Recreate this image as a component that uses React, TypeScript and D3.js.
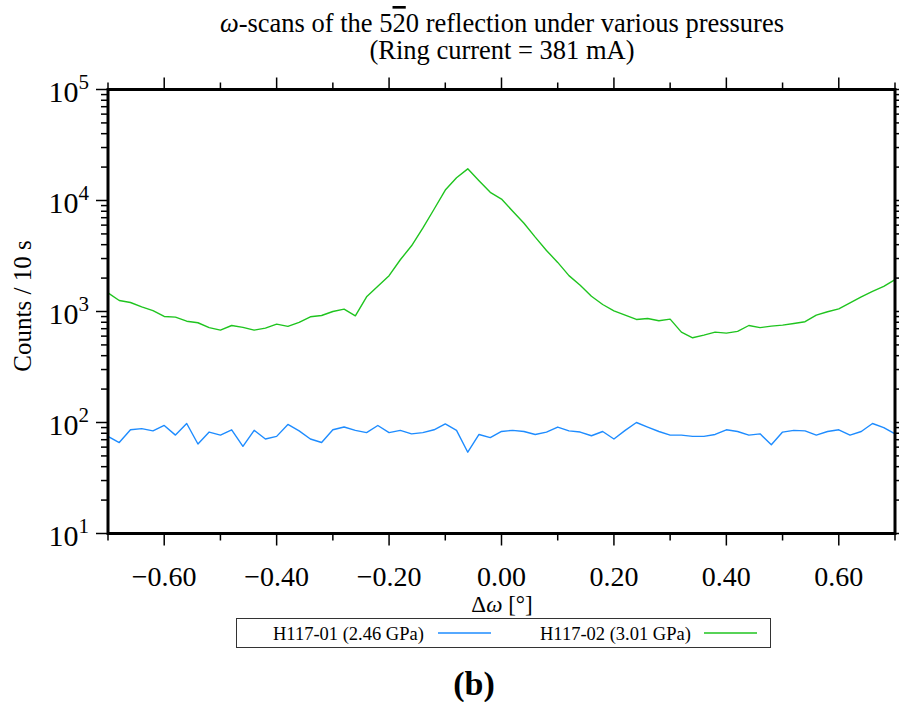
import React from "react";
import * as d3 from "d3";

const omega = [
  -0.7, -0.68, -0.66, -0.64, -0.62, -0.6, -0.58, -0.56, -0.54, -0.52,
  -0.5, -0.48, -0.46, -0.44, -0.42, -0.4, -0.38, -0.36, -0.34, -0.32,
  -0.3, -0.28, -0.26, -0.24, -0.22, -0.2, -0.18, -0.16, -0.14, -0.12,
  -0.1, -0.08, -0.06, -0.04, -0.02, 0.0, 0.02, 0.04, 0.06, 0.08,
  0.1, 0.12, 0.14, 0.16, 0.18, 0.2, 0.22, 0.24, 0.26, 0.28,
  0.3, 0.32, 0.34, 0.36, 0.38, 0.4, 0.42, 0.44, 0.46, 0.48,
  0.5, 0.52, 0.54, 0.56, 0.58, 0.6, 0.62, 0.64, 0.66, 0.68, 0.7,
];

const h11701 = [
  75, 66, 86, 88, 84, 94, 77, 98, 64, 82,
  77, 86, 61, 85, 71, 75, 96, 84, 71, 66,
  86, 91, 85, 81, 94, 81, 85, 79, 81, 86,
  97, 85, 54, 78, 73, 83, 85, 83, 78, 82,
  91, 84, 82, 76, 83, 71, 85, 100, 91, 83,
  77, 77, 75, 75, 78, 86, 83, 77, 79, 63,
  82, 85, 84, 77, 83, 86, 77, 83, 98, 90, 79,
];

const h11702 = [
  1470, 1256, 1205, 1102, 1020, 902, 889, 818, 792, 715,
  680, 748, 719, 680, 708, 769, 734, 798, 896, 920,
  1000, 1050, 914, 1355, 1687, 2103, 2927, 3907, 5637, 8340,
  12410, 16030, 19290, 15070, 11840, 10300, 8000, 6240, 4675, 3548,
  2768, 2105, 1722, 1371, 1156, 1014, 927, 848, 865, 826,
  854, 652, 580, 613, 652, 638, 662, 748, 715, 738,
  754, 779, 809, 927, 994, 1057, 1197, 1355, 1521, 1687, 1935,
];

const xMajorTicks = [-0.6, -0.4, -0.2, 0.0, 0.2, 0.4, 0.6];
const xMinorTicks = [-0.7, -0.5, -0.3, -0.1, 0.1, 0.3, 0.5, 0.7];
const xTickLabels = ["\u22120.60", "\u22120.40", "\u22120.20", "0.00", "0.20", "0.40", "0.60"];
const yDecades = [10, 100, 1000, 10000, 100000];
const yExponents = ["1", "2", "3", "4", "5"];

const seriesNames = ["H117-01 (2.46 GPa)", "H117-02 (3.01 GPa)"];
const seriesColors = ["#1e8cff", "#1fc41f"];

const W = 899;
const H = 702;
const left = 108;
const right = 895;
const top = 89.5;
const bottom = 533.5;
const FONT = '"Liberation Serif", "Times New Roman", serif';

export default function App() {
  const x = d3.scaleLinear().domain([-0.7, 0.7]).range([left, right]);
  const y = d3.scaleLog().domain([10, 100000]).range([bottom, top]);

  const line = (vals: number[]) =>
    d3
      .line<number>()
      .x((_, i) => x(omega[i]))
      .y((v) => y(v))(vals) as string;

  const yMinor = y.ticks().filter((t) => !yDecades.includes(t));

  const series = [h11701, h11702];

  return (
    <svg
      width={W}
      height={H}
      style={{ position: "absolute", left: 0, top: 0, background: "#fff", fontFamily: FONT }}
    >
      <rect x={0} y={0} width={W} height={H} fill="#fff" />
      {/* Title */}
      <text x={502} y={32} textAnchor="middle" fontSize={26.5} fill="#000">
        <tspan fontStyle="italic">ω</tspan>
        <tspan>-scans of the 5</tspan>
        <tspan style={{ textDecoration: "overline" }}>2</tspan>
        <tspan>0 reflection under various pressures</tspan>
      </text>
      <text x={502} y={59} textAnchor="middle" fontSize={26.5} fill="#000">
        (Ring current = 381 mA)
      </text>

      {/* data */}
      <defs>
        <clipPath id="plotclip">
          <rect x={left} y={top} width={right - left} height={bottom - top} />
        </clipPath>
      </defs>
      <g clipPath="url(#plotclip)">
        {series.map((s, k) => (
          <path
            key={k}
            d={line(s)}
            fill="none"
            stroke={seriesColors[k]}
            strokeWidth={1.4}
            strokeLinejoin="round"
          />
        ))}
      </g>

      {/* x ticks bottom & top */}
      {xMajorTicks.map((t) => (
        <g key={"xM" + t}>
          <line x1={x(t)} x2={x(t)} y1={bottom} y2={bottom + 12} stroke="#000" strokeWidth={1.5} />
          <line x1={x(t)} x2={x(t)} y1={top} y2={top - 12} stroke="#000" strokeWidth={1.5} />
        </g>
      ))}
      {xMinorTicks.map((t) => (
        <g key={"xm" + t}>
          <line x1={x(t)} x2={x(t)} y1={bottom} y2={bottom + 7} stroke="#000" strokeWidth={1.5} />
          <line x1={x(t)} x2={x(t)} y1={top} y2={top - 7} stroke="#000" strokeWidth={1.5} />
        </g>
      ))}
      {xMajorTicks.map((t, i) => (
        <text key={"xl" + t} x={x(t)} y={586} textAnchor="middle" fontSize={28} fill="#000">
          {xTickLabels[i]}
        </text>
      ))}

      {/* y ticks left & right */}
      {yDecades.map((t) => (
        <g key={"yM" + t}>
          <line x1={left} x2={left - 12} y1={y(t)} y2={y(t)} stroke="#000" strokeWidth={1.5} />
          <line x1={right} x2={right + 12} y1={y(t)} y2={y(t)} stroke="#000" strokeWidth={1.5} />
        </g>
      ))}
      {yMinor.map((t) => (
        <g key={"ym" + t}>
          <line x1={left} x2={left - 7} y1={y(t)} y2={y(t)} stroke="#000" strokeWidth={1.5} />
          <line x1={right} x2={right + 7} y1={y(t)} y2={y(t)} stroke="#000" strokeWidth={1.5} />
        </g>
      ))}
      {yDecades.map((t, i) => (
        <text key={"yl" + t} x={89} y={y(t) + 12} textAnchor="end" fill="#000">
          <tspan fontSize={30}>10</tspan>
          <tspan fontSize={21} dy={-13}>
            {yExponents[i]}
          </tspan>
        </text>
      ))}

      {/* frame */}
      <rect
        x={left}
        y={top}
        width={right - left}
        height={bottom - top}
        fill="none"
        stroke="#000"
        strokeWidth={3}
      />

      {/* axis labels */}
      <text
        transform={`translate(31,306) rotate(-90)`}
        textAnchor="middle"
        fontSize={25}
        fill="#000"
      >
        Counts / 10 s
      </text>
      <text x={502} y={612} textAnchor="middle" fontSize={23} fill="#000">
        Δ<tspan fontStyle="italic">ω</tspan> [°]
      </text>

      {/* legend */}
      <rect x={236.5} y={618.5} width={534} height={29} fill="#fff" stroke="#333" strokeWidth={1} />
      <text x={273} y={640} fontSize={18.5} fill="#000">
        {seriesNames[0]}
      </text>
      <line x1={438} x2={491} y1={633} y2={633} stroke={seriesColors[0]} strokeWidth={1.5} />
      <text x={540} y={640} fontSize={18.5} fill="#000">
        {seriesNames[1]}
      </text>
      <line x1={704} x2={757} y1={633} y2={633} stroke={seriesColors[1]} strokeWidth={1.5} />

      {/* panel label */}
      <text x={474} y={695} textAnchor="middle" fontSize={34} fontWeight="bold" fill="#000">
        (b)
      </text>
    </svg>
  );
}
